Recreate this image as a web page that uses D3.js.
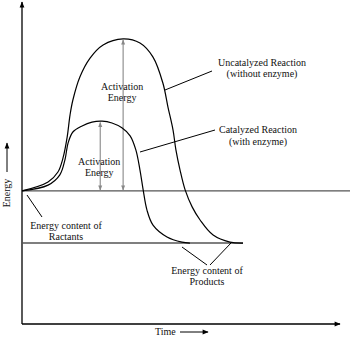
<!DOCTYPE html>
<html><head><meta charset="utf-8">
<script src="https://cdn.jsdelivr.net/npm/d3@7"></script>
<style>body{margin:0;background:#fff} svg text{font-family:'Times New Roman','Liberation Serif',serif;font-size:10px}</style>
</head><body><svg id="c" width="350" height="339"></svg>
<script>
// Energy levels (arbitrary units 0-100) and time (0-100)
const reactantsEnergy = 41.6;
const productsEnergy = 25.3;
const productsEnd = 69.5;
const uncatalyzedTime = [0,8.2,11.3,12.9,14.2,15.1,16.0,18.2,21.4,25.5,31.8,37.1,41.2,44.3,45.9,47.5,48.4,49.7,51.3,53.5,56.0,60.1,65.4,69.5];
const uncatalyzedEnergy = [41.6,44.4,47.5,51.9,58.4,65.3,70.0,77.2,83.1,87.2,89.1,87.8,83.4,75.3,67.8,60.6,54.4,48.1,41.9,36.6,32.5,27.8,25.6,25.3];
const catalyzedTime = [0,8.2,11.9,13.5,14.5,16.0,18.9,22.0,25.2,28.3,31.4,34.0,35.8,37.1,38.1,39.3,41.2,45.6,50.3,52.8];
const catalyzedEnergy = [41.6,43.4,46.6,51.3,56.6,60.0,61.9,63.1,63.4,62.8,61.3,58.8,54.4,48.1,41.9,35.6,30.9,27.2,25.6,25.3];
const uncatalyzedPeak = {t:31.8, e:89.1};
const catalyzedPeak = {t:24.6, e:63.3};

const svg = d3.select("#c");
const x = d3.scaleLinear().domain([0,100]).range([22,340]);
const y = d3.scaleLinear().domain([0,100]).range([324,4]);

const defs = svg.append("defs");
function marker(id, color, w, h){
  defs.append("marker").attr("id",id).attr("viewBox","0 0 10 10").attr("refX",9).attr("refY",5)
    .attr("markerWidth",w).attr("markerHeight",h).attr("orient","auto-start-reverse").attr("markerUnits","userSpaceOnUse")
    .append("path").attr("d","M0,1L10,5L0,9Z").attr("fill",color);
}
marker("ab","#000",8,6);
marker("ag","#888",6,5);

// axes
svg.append("line").attr("x1",x(0)).attr("y1",y(0)).attr("x2",x(0)).attr("y2",y(100)-2)
  .attr("stroke","#000").attr("stroke-width",1.3).attr("marker-end","url(#ab)");
svg.append("line").attr("x1",x(0)).attr("y1",y(0)).attr("x2",x(100)).attr("y2",y(0))
  .attr("stroke","#000").attr("stroke-width",1.3).attr("marker-end","url(#ab)");

// energy level lines
svg.append("line").attr("x1",x(0)).attr("x2",350).attr("y1",y(reactantsEnergy)).attr("y2",y(reactantsEnergy))
  .attr("stroke","#555").attr("stroke-width",1.4);
svg.append("line").attr("x1",x(0)).attr("x2",x(productsEnd)).attr("y1",y(productsEnergy)).attr("y2",y(productsEnergy))
  .attr("stroke","#555").attr("stroke-width",1.4);

// activation energy arrows
[uncatalyzedPeak, catalyzedPeak].forEach(p=>{
  svg.append("line").attr("x1",x(p.t)).attr("x2",x(p.t)).attr("y1",y(p.e)+1).attr("y2",y(reactantsEnergy)-1)
    .attr("stroke","#888").attr("stroke-width",1.1)
    .attr("marker-start","url(#ag)").attr("marker-end","url(#ag)");
});

// curves
const line = d3.line().x(d=>x(d[0])).y(d=>y(d[1])).curve(d3.curveCatmullRom.alpha(0.5));
svg.append("path").datum(d3.zip(uncatalyzedTime,uncatalyzedEnergy)).attr("d",line)
  .attr("fill","none").attr("stroke","#000").attr("stroke-width",1.2);
svg.append("path").datum(d3.zip(catalyzedTime,catalyzedEnergy)).attr("d",line)
  .attr("fill","none").attr("stroke","#000").attr("stroke-width",1.2);

// pointer lines
const ptr = [[212,71,165,90],[215,130,140,152],[27,195,42,217],[182,247,207,265],[231,243,210,265]];
ptr.forEach(p=>svg.append("line").attr("x1",p[0]).attr("y1",p[1]).attr("x2",p[2]).attr("y2",p[3])
  .attr("stroke","#000").attr("stroke-width",1));

// labels
function label(cx, ys, lines){
  lines.forEach((s,i)=>svg.append("text").attr("x",cx).attr("y",ys[i]).attr("text-anchor","middle").attr("fill","#111").text(s));
}
label(x(uncatalyzedPeak.t)-1,[90,101],["Activation","Energy"]);
label(x(catalyzedPeak.t)-1,[165,176],["Activation","Energy"]);
label(262,[66,77],["Uncatalyzed Reaction","(without enzyme)"]);
label(258,[133,145],["Catalyzed Reaction","(with enzyme)"]);
label(66,[229,240],["Energy content of","Ractants"]);
label(207,[274,285],["Energy content of","Products"]);

svg.append("text").attr("x",155).attr("y",335).attr("fill","#111").text("Time");
svg.append("line").attr("x1",180).attr("x2",208).attr("y1",332).attr("y2",332)
  .attr("stroke","#000").attr("stroke-width",1).attr("marker-end","url(#ab)");
svg.append("text").attr("transform","translate(10,193) rotate(-90)").attr("text-anchor","middle").attr("fill","#111").text("Energy");
svg.append("line").attr("x1",7).attr("x2",7).attr("y1",172).attr("y2",143)
  .attr("stroke","#000").attr("stroke-width",1).attr("marker-end","url(#ab)");
</script></body></html>
